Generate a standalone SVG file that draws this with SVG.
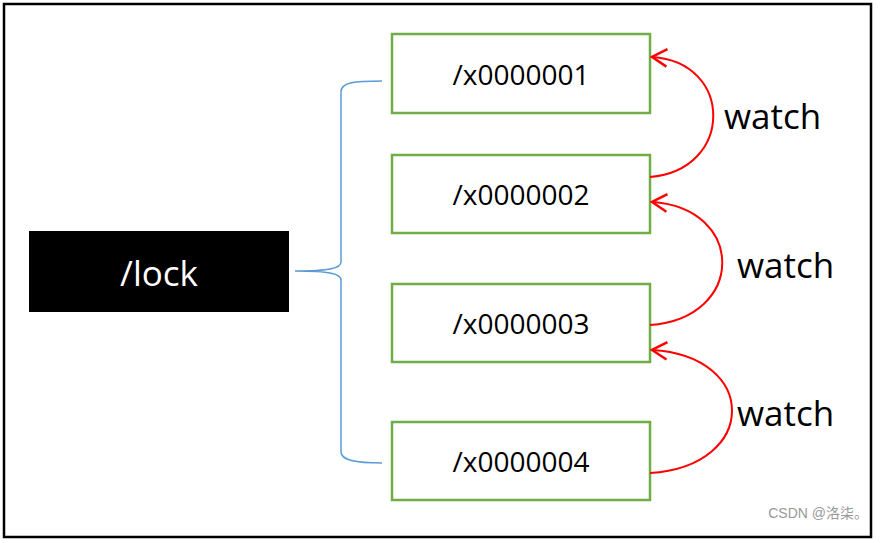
<svg xmlns="http://www.w3.org/2000/svg" width="880" height="543" viewBox="0 0 880 543">
<style>
.node{fill:#fff;stroke:#70AD47;stroke-width:2.5}
.lbl{font-family:"Open Sans","Noto Sans",sans-serif;font-size:28px;fill:#000;text-anchor:middle}
.watch{font-family:"Open Sans","Noto Sans",sans-serif;font-size:35px;fill:#000}
.arc{fill:none;stroke:#FF0000;stroke-width:2}
.brace{fill:none;stroke:#5B9BD5;stroke-width:1.5}
</style>
<defs>
<marker id="ah" markerUnits="userSpaceOnUse" markerWidth="20" markerHeight="20" viewBox="-14 -8 16 16" refX="0" refY="0" orient="auto">
<path d="M-12,-7 L0,0 L-12,7" fill="none" stroke="#FF0000" stroke-width="2"/>
</marker>
</defs>
<rect x="0" y="0" width="880" height="543" fill="#fff"/>
<rect x="4" y="4" width="867" height="533" fill="none" stroke="#000" stroke-width="2.5"/>
<g id="lock">
<rect x="29" y="231" width="260" height="81" fill="#000"/>
<text x="159" y="286" font-family="'Open Sans','Noto Sans',sans-serif" font-size="35" fill="#fff" text-anchor="middle">/lock</text>
</g>
<g id="n1"><rect class="node" x="392" y="34" width="258" height="79"/><text class="lbl" x="521" y="85">/x0000001</text></g>
<g id="n2"><rect class="node" x="392" y="155" width="258" height="78"/><text class="lbl" x="521" y="205">/x0000002</text></g>
<g id="n3"><rect class="node" x="392" y="284" width="258" height="78"/><text class="lbl" x="521" y="334">/x0000003</text></g>
<g id="n4"><rect class="node" x="392" y="422" width="258" height="78"/><text class="lbl" x="521" y="472">/x0000004</text></g>
<g id="connectors">
<path class="brace" d="M382,81 C355,81 341,82 341,92 L341,262 C341,268 330,271 295,271 C330,271 341,274 341,280 L341,452 C341,460 355,463 382,463"/>
<path class="arc" d="M650,177 C734,170 734,62 652,57" marker-end="url(#ah)"/>
<path class="arc" d="M650,325 C746,318 746,208 652,202" marker-end="url(#ah)"/>
<path class="arc" d="M650,473 C759,466 759,356 652,350" marker-end="url(#ah)"/>
</g>
<text class="watch" x="724" y="129">watch</text>
<text class="watch" x="737" y="278">watch</text>
<text class="watch" x="737" y="426">watch</text>
<text x="868" y="518" font-family="'Liberation Sans','Noto Sans CJK SC',sans-serif" font-size="14" fill="#999" text-anchor="end">CSDN @洛柒。</text>
</svg>
